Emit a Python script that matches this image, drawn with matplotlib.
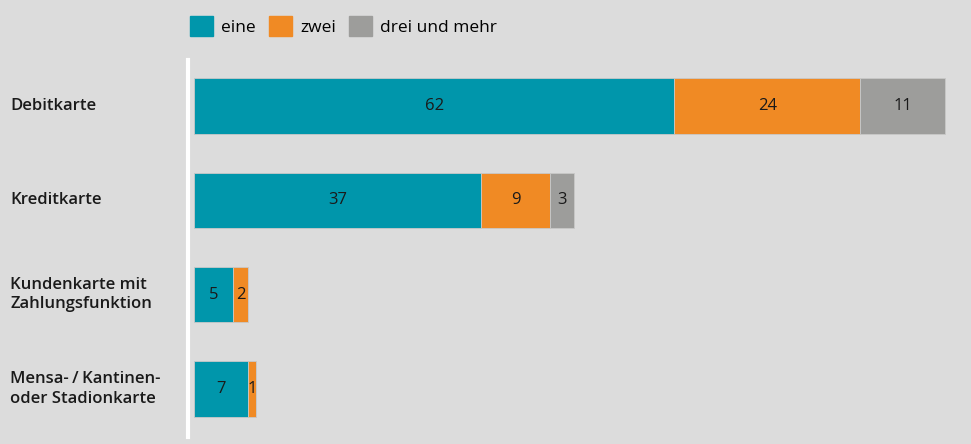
import matplotlib.pyplot as plt
from matplotlib.patches import Rectangle
from matplotlib.transforms import blended_transform_factory

# data
categories = ["Debitkarte", "Kreditkarte", "Kundenkarte mit\nZahlungsfunktion",
              "Mensa-\u2009/\u2009Kantinen-\noder Stadionkarte"]
series_names = ["eine", "zwei", "drei und mehr"]
eine = [62, 37, 5, 7]
zwei = [24, 9, 2, 1]
drei = [11, 3, 0, 0]
colors = ["#0096ab", "#f08a24", "#9d9d9b"]
bg = "#dcdcdc"

plt.rcParams['font.family'] = ['Open Sans', 'DejaVu Sans']

fig = plt.figure(figsize=(9.71, 4.44), dpi=100, facecolor=bg)
W, H = 971, 444
ax = fig.add_axes([194 / W, 1 - 437 / H, 777 / W, 377 / H])
ax.set_facecolor(bg)

y = list(range(len(categories)))
left = [0] * len(categories)
for name, vals, col in zip(series_names, [eine, zwei, drei], colors):
    ax.barh(y, vals, left=left, height=0.59, color=col, edgecolor="#c8c8c8",
            linewidth=0.6, label=name)
    for yi, l, v in zip(y, left, vals):
        if v > 0:
            ax.text(l + v / 2, yi, str(v), ha="center", va="center",
                    fontsize=12, color="#1a1a1a")
    left = [a + b for a, b in zip(left, vals)]

ax.set_xlim(0, 100.3)
ax.set_ylim(3.51, -0.49)
ax.set_xticks([])
ax.set_yticks([])
for s in ["top", "right", "bottom"]:
    ax.spines[s].set_visible(False)
ax.spines["left"].set_color("white")
ax.spines["left"].set_linewidth(3)
ax.spines["left"].set_position(("outward", 4))

# category labels at the left edge
tr = blended_transform_factory(fig.transFigure, ax.transData)
for yi, cat in zip(y, categories):
    ax.text(10 / W, yi, cat, transform=tr, ha="left", va="center",
            fontsize=12, fontweight="semibold", color="#1a1a1a",
            linespacing=1.3)

handles = [Rectangle((0, 0), 1, 1, color=c) for c in colors]
fig.legend(handles, series_names, loc="upper left",
           bbox_to_anchor=(183 / W, 1 - 9 / H), ncol=3, frameon=False,
           fontsize=12.5, handlelength=1.35, handleheight=1.4,
           handletextpad=0.45, columnspacing=0.75, borderaxespad=0)

fig.savefig("out.png", dpi=100, facecolor=bg)
